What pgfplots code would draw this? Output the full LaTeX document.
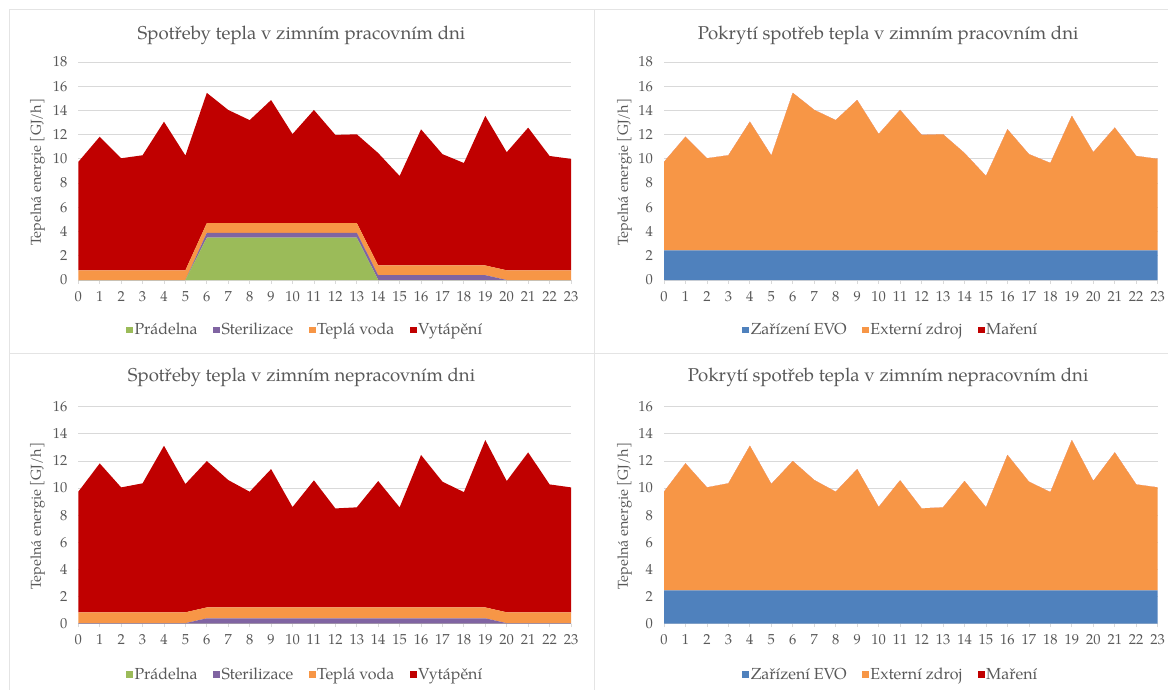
\documentclass[border=0pt]{standalone}
\usepackage{fontspec}
\setmainfont{TeX Gyre Pagella}
\usepackage{pgfplots}
\usepackage{pgfplotstable}
\pgfplotsset{compat=1.18}
\definecolor{cP}{HTML}{9BBB59}
\definecolor{cS}{HTML}{8064A2}
\definecolor{cT}{HTML}{F79646}
\definecolor{cV}{HTML}{C00000}
\definecolor{cE}{HTML}{4F81BD}
\definecolor{txt}{HTML}{595959}
\definecolor{gridc}{HTML}{D9D9D9}
\definecolor{framec}{HTML}{E4E4E4}

\pgfplotstableread{
h P S T V
0 0 0 0.8 8.95
1 0 0 0.8 11.03
2 0 0 0.8 9.25
3 0 0 0.8 9.50
4 0 0 0.8 12.27
5 0 0 0.8 9.48
6 3.5 0.4 0.8 10.75
7 3.5 0.4 0.8 9.34
8 3.5 0.4 0.8 8.50
9 3.5 0.4 0.8 10.16
10 3.5 0.4 0.8 7.35
11 3.5 0.4 0.8 9.34
12 3.5 0.4 0.8 7.28
13 3.5 0.4 0.8 7.33
14 0 0.4 0.8 9.28
15 0 0.4 0.8 7.39
16 0 0.4 0.8 11.24
17 0 0.4 0.8 9.19
18 0 0.4 0.8 8.46
19 0 0.4 0.8 12.35
20 0 0 0.8 9.75
21 0 0 0.8 11.78
22 0 0 0.8 9.44
23 0 0 0.8 9.20
}\tabW

\pgfplotstableread{
h P S T V
0 0 0.04 0.8 8.89
1 0 0.04 0.8 10.98
2 0 0.04 0.8 9.21
3 0 0.04 0.8 9.51
4 0 0.04 0.8 12.28
5 0 0.04 0.8 9.46
6 0 0.4 0.8 10.79
7 0 0.4 0.8 9.39
8 0 0.4 0.8 8.53
9 0 0.4 0.8 10.20
10 0 0.4 0.8 7.40
11 0 0.4 0.8 9.37
12 0 0.4 0.8 7.30
13 0 0.4 0.8 7.38
14 0 0.4 0.8 9.32
15 0 0.4 0.8 7.38
16 0 0.4 0.8 11.24
17 0 0.4 0.8 9.27
18 0 0.4 0.8 8.50
19 0 0.4 0.8 12.34
20 0 0.04 0.8 9.68
21 0 0.04 0.8 11.79
22 0 0.04 0.8 9.43
23 0 0.04 0.8 9.21
}\tabN

\pgfplotstableread{
h E X M
0 2.45 7.30 0
1 2.45 9.38 0
2 2.45 7.60 0
3 2.45 7.85 0
4 2.45 10.62 0
5 2.45 7.83 0
6 2.45 13.00 0
7 2.45 11.59 0
8 2.45 10.75 0
9 2.45 12.41 0
10 2.45 9.60 0
11 2.45 11.59 0
12 2.45 9.53 0
13 2.45 9.58 0
14 2.45 8.03 0
15 2.45 6.14 0
16 2.45 9.99 0
17 2.45 7.94 0
18 2.45 7.21 0
19 2.45 11.10 0
20 2.45 8.10 0
21 2.45 10.13 0
22 2.45 7.79 0
23 2.45 7.55 0
}\tabWR

\pgfplotstableread{
h E X M
0 2.45 7.28 0
1 2.45 9.37 0
2 2.45 7.60 0
3 2.45 7.90 0
4 2.45 10.67 0
5 2.45 7.85 0
6 2.45 9.54 0
7 2.45 8.14 0
8 2.45 7.28 0
9 2.45 8.95 0
10 2.45 6.15 0
11 2.45 8.12 0
12 2.45 6.05 0
13 2.45 6.13 0
14 2.45 8.07 0
15 2.45 6.13 0
16 2.45 9.99 0
17 2.45 8.02 0
18 2.45 7.25 0
19 2.45 11.09 0
20 2.45 8.07 0
21 2.45 10.18 0
22 2.45 7.82 0
23 2.45 7.60 0
}\tabNR

\pgfplotsset{legend image code/.code={\fill[#1] (0pt,-3.4pt) rectangle (6.8pt,3.4pt);}}
\pgfplotsset{
  base/.style={
    scale only axis, xmin=0, xmax=23, ymin=0,
    xtick={0,...,23},
    axis x line*=bottom, axis y line*=left,
    x axis line style={draw=gridc, line width=0.8pt, -},
    y axis line style={draw=none},
    ymajorgrids, grid style={draw=gridc, line width=0.8pt},
    xtick style={draw=gridc, line width=0.8pt},
    ytick style={draw=none},
    tick align=outside, major tick length=3.5pt,
    stack plots=y,
    /pgf/number format/assume math mode=true,
    tick label style={font=\fontsize{14.5}{14.5}\selectfont, text=txt},
    xticklabel style={yshift=-4pt},
    yticklabel style={xshift=-4pt},
    ylabel={Tepelná energie [GJ/h]},
    every axis y label/.style={rotate=90, anchor=center},
    ylabel style={font=\fontsize{14.4}{15}\selectfont, text=txt},
    every axis title/.style={anchor=base, font=\fontsize{18.6}{20}\selectfont, text=txt},
    legend columns=4,
    legend style={draw=none, fill=none, anchor=center,
      font=\fontsize{16}{16}\selectfont, text=txt,
      nodes={inner xsep=1.5pt},
      /tikz/every even column/.append style={column sep=14pt}},
    every axis plot/.append style={draw=none},
  },
}

\begin{document}
\begin{tikzpicture}
\path[use as bounding box, fill=white] (0pt,0pt) rectangle (1168pt,-690pt);
\draw[framec, line width=1pt] (9pt,-10pt) -- (9pt,-690pt);
\draw[framec, line width=1pt] (594pt,-10pt) -- (594pt,-690pt);
\draw[framec, line width=1pt] (9pt,-10pt) -- (1168pt,-10pt);
\draw[framec, line width=1pt] (9pt,-353pt) -- (1168pt,-353pt);

% top-left
\begin{axis}[base, at={(78.3pt,-280pt)}, anchor=south west,
  width=492.7pt, height=218pt, ymax=18, ytick={0,2,...,18},
  title={Spotřeby tepla v zimním pracovním dni},
  title style={at={(0.453,1)}, yshift=22.7pt},
  every axis y label/.append style={at={(axis description cs:-0.0826,0.495)}},
  legend style={at={(0.46,-0.229)}}]
\addplot[fill=cP] table[x=h,y=P]{\tabW} \closedcycle;
\addplot[fill=cS] table[x=h,y=S]{\tabW} \closedcycle;
\addplot[fill=cT] table[x=h,y=T]{\tabW} \closedcycle;
\addplot[fill=cV] table[x=h,y=V]{\tabW} \closedcycle;
\legend{Prádelna, Sterilizace, Teplá voda, Vytápění}
\end{axis}

% bottom-left
\begin{axis}[base, at={(78.3pt,-623.7pt)}, anchor=south west,
  width=492.7pt, height=217pt, ymax=16, ytick={0,2,...,16},
  title={Spotřeby tepla v zimním nepracovním dni},
  title style={at={(0.453,1)}, yshift=25pt},
  every axis y label/.append style={at={(axis description cs:-0.0826,0.495)}},
  legend style={at={(0.46,-0.233)}}]
\addplot[fill=cP] table[x=h,y=P]{\tabN} \closedcycle;
\addplot[fill=cS] table[x=h,y=S]{\tabN} \closedcycle;
\addplot[fill=cT] table[x=h,y=T]{\tabN} \closedcycle;
\addplot[fill=cV] table[x=h,y=V]{\tabN} \closedcycle;
\legend{Prádelna, Sterilizace, Teplá voda, Vytápění}
\end{axis}

% top-right
\begin{axis}[base, at={(664pt,-280pt)}, anchor=south west,
  width=493.7pt, height=218pt, ymax=18, ytick={0,2,...,18},
  title={Pokrytí spotřeb tepla v zimním pracovním dni},
  title style={at={(0.454,1)}, yshift=22.7pt},
  every axis y label/.append style={at={(axis description cs:-0.0802,0.495)}},
  legend style={at={(0.459,-0.229)}}]
\addplot[fill=cE] table[x=h,y=E]{\tabWR} \closedcycle;
\addplot[fill=cT] table[x=h,y=X]{\tabWR} \closedcycle;
\addplot[fill=cV] table[x=h,y=M]{\tabWR} \closedcycle;
\legend{Zařízení EVO, Externí zdroj, Maření}
\end{axis}

% bottom-right
\begin{axis}[base, at={(664pt,-623.7pt)}, anchor=south west,
  width=493.7pt, height=217pt, ymax=16, ytick={0,2,...,16},
  title={Pokrytí spotřeb tepla v zimním nepracovním dni},
  title style={at={(0.454,1)}, yshift=25pt},
  every axis y label/.append style={at={(axis description cs:-0.0802,0.495)}},
  legend style={at={(0.459,-0.233)}}]
\addplot[fill=cE] table[x=h,y=E]{\tabNR} \closedcycle;
\addplot[fill=cT] table[x=h,y=X]{\tabNR} \closedcycle;
\addplot[fill=cV] table[x=h,y=M]{\tabNR} \closedcycle;
\legend{Zařízení EVO, Externí zdroj, Maření}
\end{axis}
\end{tikzpicture}
\end{document}
